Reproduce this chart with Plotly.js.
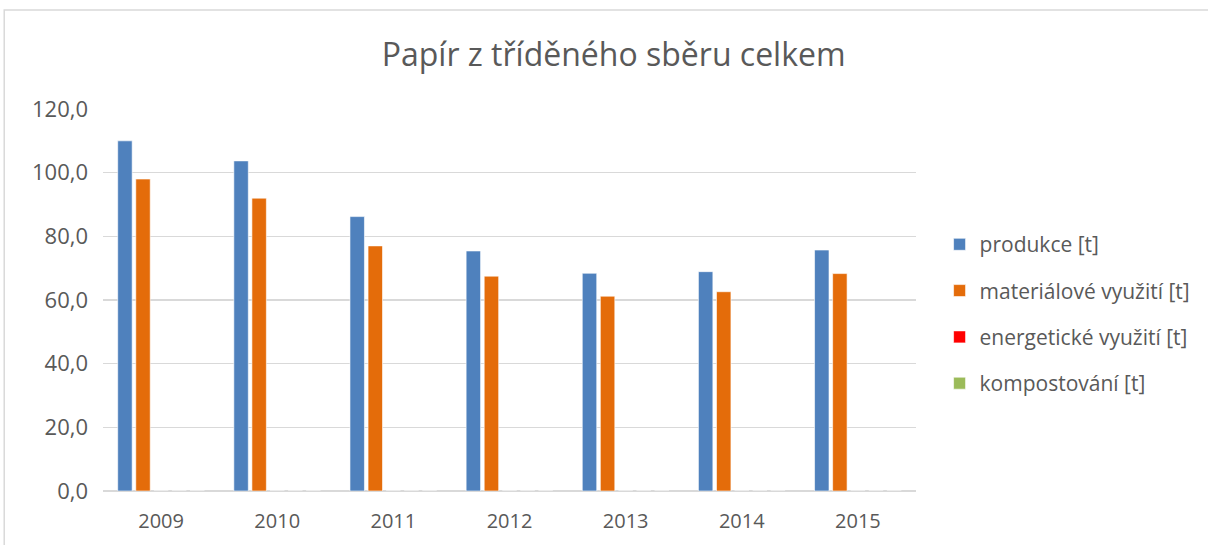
<!DOCTYPE html>
<html>
<head>
<meta charset="utf-8">
<script src="https://cdn.plot.ly/plotly-3.0.1.min.js"></script>
<style>html,body{margin:0;padding:0;background:#fff;}#chart{width:1208px;height:545px;}</style>
</head>
<body>
<div id="chart"></div>
<script>
const years = ["2009","2010","2011","2012","2013","2014","2015"];
const produkce = [110.0, 103.7, 86.2, 75.4, 68.4, 68.9, 75.7];
const materialove = [98.0, 92.0, 77.0, 67.5, 61.2, 62.6, 68.3];
const energeticke = [0, 0, 0, 0, 0, 0, 0];
const kompostovani = [0, 0, 0, 0, 0, 0, 0];
const ostatni = [0, 0, 0, 0, 0, 0, 0];
const seriesNames = ["produkce [t]", "materiálové využití [t]", "energetické využití [t]", "kompostování [t]", ""];
const seriesColors = ["#4f81bd", "#e46c0a", "#ff0000", "#9bbb59", "#7f7f7f"];
const seriesValues = [produkce, materialove, energeticke, kompostovani, ostatni];

const traces = seriesValues.map((vals, i) => ({
  type: "bar",
  x: years,
  y: vals,
  name: seriesNames[i],
  legendgroup: "g" + i,
  showlegend: i < 4,
  marker: {color: seriesColors[i], line: {color: "rgba(255,255,255,0.6)", width: 1}},
  hoverinfo: "x+y+name"
}));

const txt = "#595959";
const layout = {
  width: 1208, height: 545,
  margin: {l: 103, r: 290, t: 109, b: 54},
  paper_bgcolor: "#fff", plot_bgcolor: "#fff",
  separators: ", ",
  barmode: "group",
  bargap: 0.222,
  bargroupgap: 0.2,
  font: {family: "Open Sans, sans-serif", color: txt},
  title: {text: "Papír z tříděného sběru celkem", font: {size: 32, color: txt, family: "Open Sans, sans-serif"}, x: 0.508, xanchor: "center", y: 0.9, yanchor: "middle"},
  xaxis: {
    type: "category",
    tickfont: {size: 20, color: txt},
    showgrid: false, zeroline: false,
    showline: false, ticks: "", ticklen: 0,
    ticklabelstandoff: 16
  },
  yaxis: {
    range: [0, 120], dtick: 20, tick0: 0,
    tickformat: ".1f",
    tickfont: {size: 22, color: txt},
    gridcolor: "#d9d9d9", gridwidth: 1.5,
    zeroline: true, zerolinecolor: "#d9d9d9", zerolinewidth: 1.5,
    showline: false, ticks: "", ticklabelstandoff: 14
  },
  legend: {
    x: 1.029, xanchor: "left", y: 0.463, yanchor: "middle",
    font: {size: 21, color: txt},
    tracegroupgap: 16,
    traceorder: "grouped",
    bgcolor: "rgba(0,0,0,0)"
  },
  shapes: [{
    type: "rect", xref: "paper", yref: "paper",
    x0: -0.1215, x1: 1.4, y0: -0.3, y1: 1.259,
    line: {color: "#d9d9d9", width: 1.5}, fillcolor: "rgba(0,0,0,0)", layer: "below"
  }]
};

Plotly.newPlot("chart", traces, layout, {displayModeBar: false, staticPlot: true});
</script>
</body>
</html>
